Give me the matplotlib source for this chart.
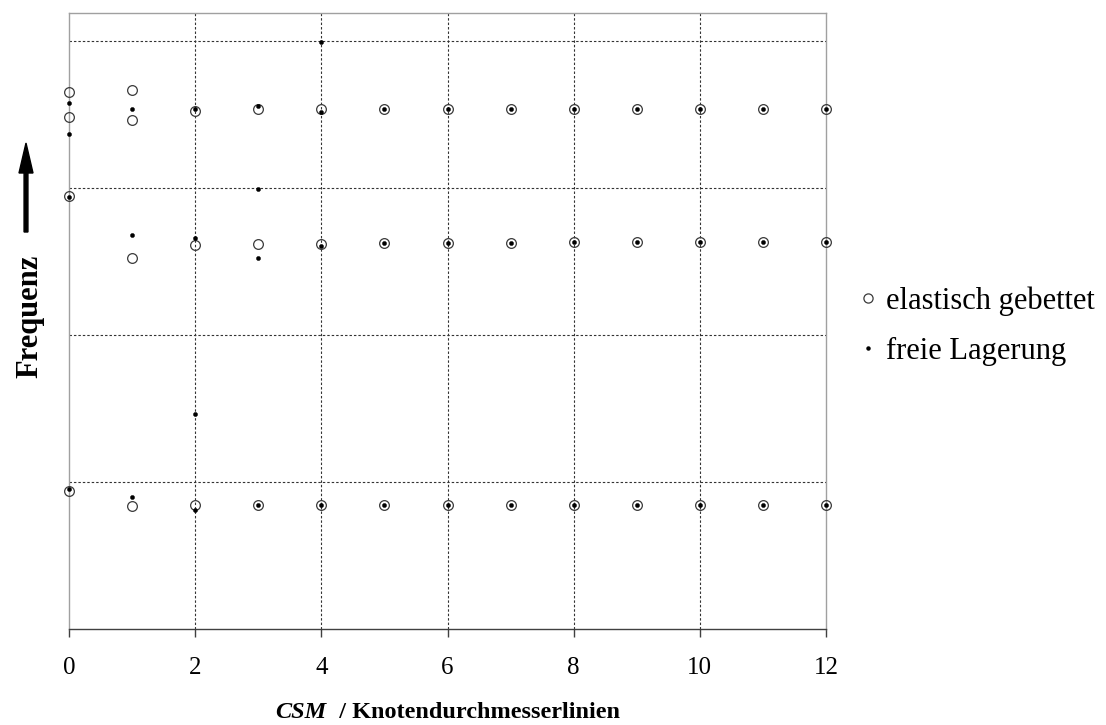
import matplotlib
matplotlib.use("Agg")
import matplotlib.pyplot as plt
from matplotlib.lines import Line2D

# ---- data (frequency in arbitrary units) ----
elastic_x = [0, 0, 0, 0,
             1, 1, 1, 1,
             2, 2, 2,
             3, 3, 3,
             4, 4, 4,
             5, 5, 5, 6, 6, 6, 7, 7, 7, 8, 8, 8,
             9, 9, 9, 10, 10, 10, 11, 11, 11, 12, 12, 12]
elastic_y = [3.655, 3.483, 2.946, 0.937,
             3.667, 3.461, 2.522, 0.839,
             3.526, 2.612, 0.846,
             3.535, 2.617, 0.844,
             3.535, 2.619, 0.844,
             3.537, 2.626, 0.846, 3.537, 2.626, 0.846, 3.537, 2.628, 0.846,
             3.537, 2.630, 0.846,
             3.537, 2.632, 0.846, 3.537, 2.632, 0.846, 3.537, 2.633, 0.846,
             3.537, 2.633, 0.846]

free_x = [0, 0, 0, 0,
          1, 1, 1,
          2, 2, 2, 2,
          3, 3, 3, 3,
          4, 4, 4, 4,
          5, 5, 5, 6, 6, 6, 7, 7, 7, 8, 8, 8,
          9, 9, 9, 10, 10, 10, 11, 11, 11, 12, 12, 12]
free_y = [3.580, 3.365, 2.937, 0.950,
          3.540, 2.678, 0.900,
          3.540, 2.658, 1.461, 0.812,
          3.560, 2.993, 2.522, 0.844,
          3.991, 3.517, 2.605, 0.844,
          3.537, 2.626, 0.846, 3.537, 2.626, 0.846, 3.537, 2.628, 0.846,
          3.537, 2.630, 0.846,
          3.537, 2.632, 0.846, 3.537, 2.632, 0.846, 3.537, 2.633, 0.846,
          3.537, 2.633, 0.846]

x_ticks = [0, 2, 4, 6, 8, 10, 12]
y_grid = [1, 2, 3, 4]
legend_labels = ["elastisch gebettet", "freie Lagerung"]
x_label_italic = "CSM"
x_label_rest = "  / Knotendurchmesserlinien"
y_label = "Frequenz"

plt.rcParams["font.family"] = ["Liberation Serif", "DejaVu Serif"]

W, H, DPI = 1106, 725, 100
fig = plt.figure(figsize=(W / DPI, H / DPI), dpi=DPI)
ax = fig.add_axes([69 / W, (H - 629) / H, (826 - 69) / W, (629 - 13) / H])

ax.set_xlim(0, 12)
ax.set_ylim(0, 4.19)

# grid
for gy in y_grid:
    ax.axhline(gy, color="#333333", lw=0.8, ls=(0, (2.2, 1.8)), zorder=1)
for gx in x_ticks[1:-1]:
    ax.axvline(gx, color="#333333", lw=0.8, ls=(0, (2.2, 1.8)), zorder=1)

h1, = ax.plot(elastic_x, elastic_y, ls="none", marker="o", ms=7.0,
              mfc="none", mec="#3a3a3a", mew=0.9, clip_on=False, zorder=3)
h2, = ax.plot(free_x, free_y, ls="none", marker="o", ms=3.0,
              mfc="black", mec="black", mew=0.3, clip_on=False, zorder=4)

for side in ["left", "top", "right"]:
    ax.spines[side].set_color("#a0a0a0")
    ax.spines[side].set_linewidth(1.0)
ax.spines["bottom"].set_color("#404040")
ax.spines["bottom"].set_linewidth(1.0)

ax.set_xticks(x_ticks)
ax.set_xticklabels([str(t) for t in x_ticks])
ax.tick_params(axis="x", direction="out", length=6, width=1.0, color="#404040",
               labelsize=18, pad=14)
ax.set_yticks([])

# legend
leg_h1 = Line2D([], [], ls="none", marker="o", ms=6.6, mfc="none", mec="#3a3a3a", mew=0.9)
leg_h2 = Line2D([], [], ls="none", marker="o", ms=2.2, mfc="black", mec="black")
fig.legend([leg_h1, leg_h2], legend_labels, loc="center left",
           bbox_to_anchor=(857 / W, 1 - 326 / H), frameon=False,
           fontsize=22, handlelength=0.7, handletextpad=0.25, labelspacing=0.68,
           borderpad=0, borderaxespad=0)

# y label with arrow
fig.text(30 / W, 1 - 316 / H, y_label, rotation=90, fontsize=22, fontweight="bold",
         ha="center", va="center")
fig.patches.append(matplotlib.patches.FancyArrow(
    26 / W, 1 - 232 / H, 0, (232 - 143) / H, width=0.0035,
    head_width=14 / W, head_length=30 / H, length_includes_head=True,
    color="black", transform=fig.transFigure, figure=fig))

# x label: italic bold part + bold part, centered under axes
fig.canvas.draw()
r = fig.canvas.get_renderer()
t1 = fig.text(0, 0, x_label_italic, fontsize=17.5, fontweight="bold", fontstyle="italic")
t2 = fig.text(0, 0, x_label_rest, fontsize=17.5, fontweight="bold")
w1 = t1.get_window_extent(r).width
w2 = t2.get_window_extent(r).width
cx = (69 + 826) / 2
x0 = cx - (w1 + w2) / 2
yb = 1 - 718 / H
t1.set_position((x0 / W, yb))
t2.set_position(((x0 + w1) / W, yb))
t1.set_va("baseline")
t2.set_va("baseline")

fig.savefig("out.png", dpi=DPI)
